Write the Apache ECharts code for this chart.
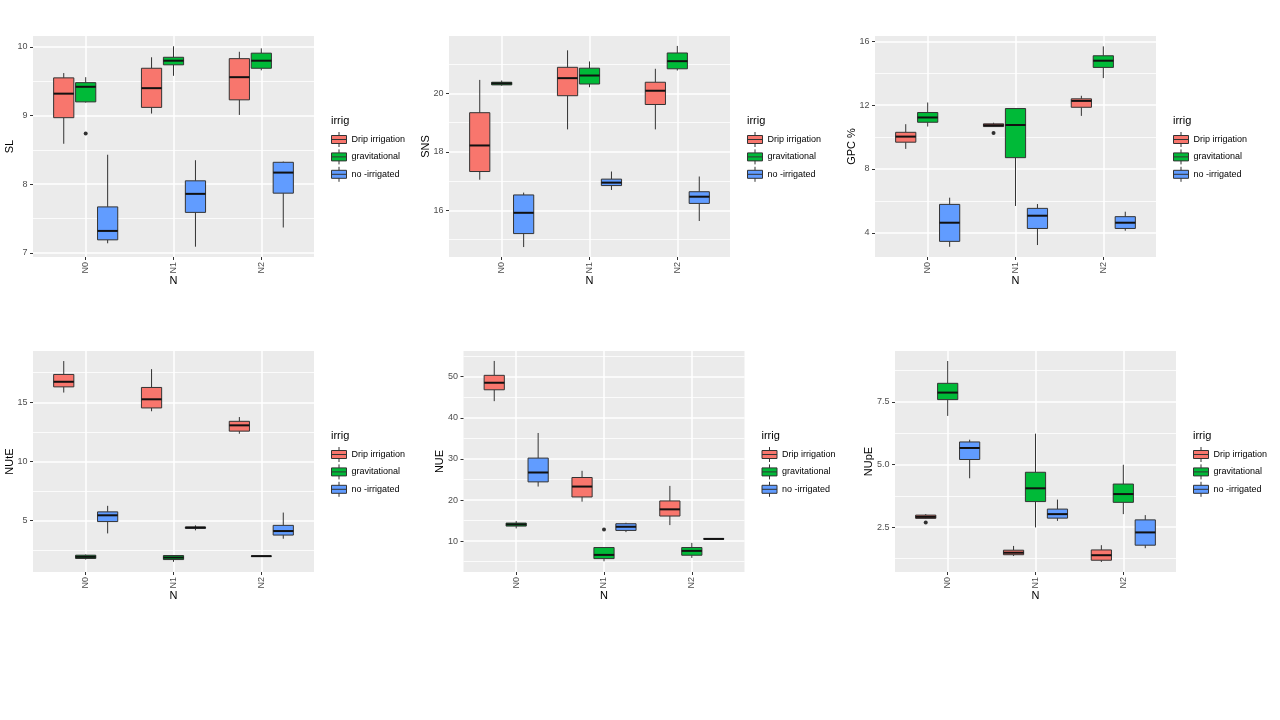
<!DOCTYPE html>
<html>
<head>
<meta charset="utf-8">
<title>irrig x N boxplots</title>
<script src="https://cdn.jsdelivr.net/npm/echarts@6/dist/echarts.min.js"></script>
<style>
    html, body { margin: 0; padding: 0; background: #fff; }
    #main { width: 1280px; height: 720px; }
</style>
</head>
<body>
<div id="main"></div>
<script>
/* ---- data : each row = [min, Q1, median, Q3, max] for N0, N1, N2 ---- */
var nLevels = ['N0', 'N1', 'N2'];
var irrigNames = ['Drip irrigation', 'gravitational', 'no -irrigated'];
var irrigColors = ['#F8766D', '#00BA38', '#619CFF'];

// SL
var slDrip = [[8.59, 8.97, 9.32, 9.55, 9.62], [9.03, 9.12, 9.40, 9.69, 9.85], [9.01, 9.23, 9.56, 9.83, 9.93]];
var slGrav = [[9.19, 9.20, 9.42, 9.48, 9.56], [9.58, 9.74, 9.80, 9.85, 10.01], [9.66, 9.69, 9.80, 9.91, 9.98]];
var slNoIrr = [[7.14, 7.19, 7.32, 7.67, 8.43], [7.09, 7.59, 7.86, 8.05, 8.35], [7.37, 7.87, 8.17, 8.32, 8.33]];
var slOut = [[0, 1, 8.74]];           // [N index, irrig index, value]
var slTicks = [7, 8, 9, 10];
var slMinor = [7.5, 8.5, 9.5];
var slRange = [6.94, 10.16];

// SNS
var snsDrip = [[17.05, 17.33, 18.22, 19.34, 20.46], [18.77, 19.92, 20.52, 20.89, 21.47], [18.77, 19.62, 20.09, 20.38, 20.84]];
var snsGrav = [[20.26, 20.29, 20.34, 20.38, 20.44], [20.21, 20.32, 20.61, 20.86, 21.09], [20.78, 20.84, 21.10, 21.38, 21.62]];
var snsNoIrr = [[14.75, 15.21, 15.92, 16.53, 16.61], [16.70, 16.85, 16.95, 17.07, 17.33], [15.64, 16.24, 16.47, 16.64, 17.16]];
var snsOut = [];
var snsTicks = [16, 18, 20];
var snsMinor = [15, 17, 19, 21];
var snsRange = [14.41, 21.96];

// GPC %
var gpcDrip = [[9.26, 9.68, 10.03, 10.30, 10.81], [10.64, 10.66, 10.74, 10.83, 10.90], [11.33, 11.87, 12.27, 12.40, 12.59]];
var gpcGrav = [[10.66, 10.93, 11.23, 11.54, 12.17], [5.68, 8.71, 10.76, 11.79, 11.81], [13.70, 14.37, 14.79, 15.10, 15.69]];
var gpcNoIrr = [[3.12, 3.46, 4.63, 5.78, 6.20], [3.23, 4.27, 5.07, 5.53, 5.80], [4.13, 4.27, 4.63, 5.01, 5.32]];
var gpcOut = [[1, 0, 10.26]];
var gpcTicks = [4, 8, 12, 16];
var gpcMinor = [6, 10, 14];
var gpcRange = [2.48, 16.34];

// NUtE
var nuteDrip = [[15.82, 16.30, 16.73, 17.35, 18.48], [14.24, 14.52, 15.25, 16.25, 17.80], [12.34, 12.56, 13.05, 13.39, 13.75]];
var nuteGrav = [[1.71, 1.80, 1.94, 2.08, 2.14], [1.52, 1.71, 1.88, 2.05, 2.08], [1.97, 1.99, 2.00, 2.01, 2.03]];
var nuteNoIrr = [[3.92, 4.92, 5.45, 5.74, 6.25], [4.18, 4.35, 4.41, 4.46, 4.60], [3.47, 3.78, 4.12, 4.60, 5.68]];
var nuteOut = [];
var nuteTicks = [5, 10, 15];
var nuteMinor = [2.5, 7.5, 12.5, 17.5];
var nuteRange = [0.66, 19.33];

// NUE
var nueDrip = [[44.05, 46.82, 48.53, 50.33, 53.83], [19.61, 20.75, 23.28, 25.48, 27.11], [13.91, 16.11, 17.74, 19.78, 23.44]];
var nueGrav = [[13.10, 13.67, 14.07, 14.40, 14.89], [5.11, 5.76, 6.66, 8.45, 8.45], [5.93, 6.58, 7.64, 8.45, 9.59]];
var nueNoIrr = [[23.28, 24.42, 26.70, 30.20, 36.31], [12.20, 12.61, 13.50, 14.24, 14.48], [10.40, 10.48, 10.55, 10.62, 10.72]];
var nueOut = [[1, 1, 12.85]];
var nueTicks = [10, 20, 30, 40, 50];
var nueMinor = [5, 15, 25, 35, 45, 55];
var nueRange = [2.5, 56.25];

// NUpE
var nupeDrip = [[2.83, 2.85, 2.91, 2.98, 3.02], [1.35, 1.40, 1.48, 1.58, 1.75], [1.11, 1.18, 1.38, 1.59, 1.78]];
var nupeGrav = [[6.94, 7.59, 7.87, 8.24, 9.13], [2.49, 3.52, 4.05, 4.69, 6.23], [3.02, 3.49, 3.82, 4.22, 4.99]];
var nupeNoIrr = [[4.45, 5.20, 5.66, 5.90, 5.99], [2.75, 2.86, 3.02, 3.22, 3.60], [1.66, 1.78, 2.29, 2.79, 2.98]];
var nupeOut = [[0, 0, 2.69]];
var nupeTicks = [2.5, 5.0, 7.5];
var nupeMinor = [1.25, 3.75, 6.25, 8.75];
var nupeRange = [0.71, 9.53];

/* ---- layout ---- */
var FONT = "'Liberation Sans', Arial, sans-serif";
var PANEL_W = 281, PANEL_H = 221;
var DODGE = 0.25;     // dodge step, in category units
var BOX_W = 0.23;     // box width, in category units
var EDGE = '#333333';
var LABEL_MARGIN = 5.5;

var panels = [
    {name: 'SL',    boxes: [slDrip, slGrav, slNoIrr],       out: slOut,   ticks: slTicks,   minor: slMinor,   range: slRange,   dec: 0, left: 33,    top: 36},
    {name: 'SNS',   boxes: [snsDrip, snsGrav, snsNoIrr],    out: snsOut,  ticks: snsTicks,  minor: snsMinor,  range: snsRange,  dec: 0, left: 449,   top: 36},
    {name: 'GPC %', boxes: [gpcDrip, gpcGrav, gpcNoIrr],    out: gpcOut,  ticks: gpcTicks,  minor: gpcMinor,  range: gpcRange,  dec: 0, left: 875,   top: 36},
    {name: 'NUtE',  boxes: [nuteDrip, nuteGrav, nuteNoIrr], out: nuteOut, ticks: nuteTicks, minor: nuteMinor, range: nuteRange, dec: 0, left: 33,    top: 351},
    {name: 'NUE',   boxes: [nueDrip, nueGrav, nueNoIrr],    out: nueOut,  ticks: nueTicks,  minor: nueMinor,  range: nueRange,  dec: 0, left: 463.5, top: 351},
    {name: 'NUpE',  boxes: [nupeDrip, nupeGrav, nupeNoIrr], out: nupeOut, ticks: nupeTicks, minor: nupeMinor, range: nupeRange, dec: 1, left: 895,   top: 351}
];

// ggplot-like legend key: box with median and whisker stubs
var KEY_ICON = 'path://M7.5,0L7.5,3.5M0,3.5L15,3.5L15,11.5L0,11.5ZM0,7.5L15,7.5M7.5,11.5L7.5,15';

// widest tick label, so the y title sits just outside the labels (like ggplot)
var measureCtx = document.createElement('canvas').getContext('2d');
measureCtx.font = '9px ' + FONT;
function labelWidth(p) {
    var w = 0;
    p.ticks.forEach(function (t) {
        w = Math.max(w, measureCtx.measureText(t.toFixed(p.dec)).width);
    });
    return w;
}

function renderBox(params, api) {
    var x = api.value(0);
    var lo = api.coord([x, api.value(1)]);
    var q1 = api.coord([x, api.value(2)]);
    var md = api.coord([x, api.value(3)]);
    var q3 = api.coord([x, api.value(4)]);
    var hi = api.coord([x, api.value(5)]);
    var half = api.size([BOX_W, 0])[0] / 2;
    var cx = md[0];
    return {
        type: 'group',
        children: [
            {type: 'line', shape: {x1: cx, y1: hi[1], x2: cx, y2: q3[1]}, style: {stroke: EDGE, lineWidth: 1}},
            {type: 'line', shape: {x1: cx, y1: q1[1], x2: cx, y2: lo[1]}, style: {stroke: EDGE, lineWidth: 1}},
            {type: 'rect', shape: {x: cx - half, y: q3[1], width: half * 2, height: q1[1] - q3[1]},
                style: {fill: api.visual('color'), stroke: EDGE, lineWidth: 1}},
            {type: 'line', shape: {x1: cx - half, y1: md[1], x2: cx + half, y2: md[1]}, style: {stroke: '#111', lineWidth: 2}}
        ]
    };
}

var grids = [], xAxes = [], yAxes = [], series = [], legends = [], titles = [];

panels.forEach(function (p, k) {
    grids.push({
        left: p.left, top: p.top, width: PANEL_W, height: PANEL_H,
        show: true, backgroundColor: '#EBEBEB', borderWidth: 0,
        containLabel: false, outerBoundsMode: 'none'
    });

    xAxes.push({
        type: 'value', gridIndex: k, position: 'bottom', min: -0.6, max: 2.6,
        name: 'N', nameLocation: 'middle', nameGap: 18, nameMoveOverlap: false,
        nameTextStyle: {fontSize: 11, color: '#000', fontFamily: FONT},
        axisLine: {show: false, onZero: false},
        axisTick: {show: true, length: 3, lineStyle: {color: EDGE}, customValues: [0, 1, 2]},
        axisLabel: {
            customValues: [0, 1, 2], rotate: 90, margin: 5, fontSize: 9, color: '#4D4D4D', fontFamily: FONT,
            formatter: function (v) { return nLevels[Math.round(v)]; }
        },
        splitLine: {show: true, lineStyle: {color: '#fff', width: 1.5}}
    });

    // major axis (labels, ticks, major grid)
    yAxes.push({
        type: 'value', gridIndex: k, position: 'left', min: p.range[0], max: p.range[1],
        name: p.name, nameLocation: 'middle', nameMoveOverlap: false,
        nameGap: LABEL_MARGIN + labelWidth(p) + 2.5,
        nameTextStyle: {fontSize: 11, color: '#000', fontFamily: FONT},
        axisLine: {show: false, onZero: false},
        axisTick: {show: true, length: 3, lineStyle: {color: EDGE}, customValues: p.ticks},
        axisLabel: {
            customValues: p.ticks, margin: LABEL_MARGIN, fontSize: 9, color: '#4D4D4D', fontFamily: FONT,
            formatter: function (v) { return v.toFixed(p.dec); }
        },
        splitLine: {show: true, lineStyle: {color: '#fff', width: 1.5}}
    });
    // minor grid only
    yAxes.push({
        type: 'value', gridIndex: k, position: 'left', min: p.range[0], max: p.range[1],
        axisLine: {show: false, onZero: false},
        axisTick: {show: false, customValues: p.minor},
        axisLabel: {show: false, customValues: p.minor},
        splitLine: {show: true, lineStyle: {color: '#fff', width: 0.8}}
    });

    p.boxes.forEach(function (rows, g) {
        series.push({
            type: 'custom', name: irrigNames[g],
            xAxisIndex: k, yAxisIndex: k * 2,
            itemStyle: {color: irrigColors[g]},
            renderItem: renderBox,
            encode: {x: 0, y: [1, 2, 3, 4, 5]},
            data: rows.map(function (r, i) {
                return [i + (g - 1) * DODGE].concat(r);
            }),
            silent: true
        });
    });

    if (p.out.length) {
        series.push({
            type: 'scatter', name: 'outlier',
            xAxisIndex: k, yAxisIndex: k * 2,
            symbol: 'circle', symbolSize: 4,
            itemStyle: {color: '#000'},
            data: p.out.map(function (o) { return [o[0] + (o[1] - 1) * DODGE, o[2]]; }),
            silent: true, z: 5
        });
    }

    titles.push({
        text: 'irrig', left: p.left + PANEL_W + 17, top: p.top + 79, padding: 0,
        textStyle: {fontSize: 11, fontWeight: 'normal', color: '#000', fontFamily: FONT}
    });

    legends.push({
        orient: 'vertical', left: p.left + PANEL_W + 17, top: p.top + 95.5,
        itemWidth: 15, itemHeight: 15, itemGap: 1.4, padding: 0,
        selectedMode: false, icon: KEY_ICON,
        textStyle: {fontSize: 9, color: '#000', fontFamily: FONT},
        data: irrigNames.map(function (n, g) {
            return {name: n, itemStyle: {color: irrigColors[g], borderColor: EDGE, borderWidth: 1}};
        })
    });
});

var chart = echarts.init(document.getElementById('main'));
chart.setOption({
    animation: false,
    backgroundColor: '#fff',
    textStyle: {fontFamily: FONT},
    title: titles,
    legend: legends,
    grid: grids,
    xAxis: xAxes,
    yAxis: yAxes,
    series: series
});
</script>
</body>
</html>
